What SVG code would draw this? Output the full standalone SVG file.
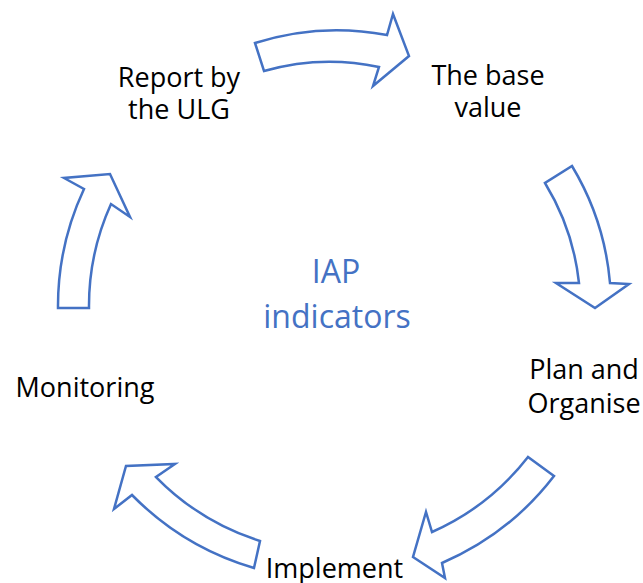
<svg xmlns="http://www.w3.org/2000/svg" width="643" height="583" viewBox="0 0 643 583">
  <style>
    .lbl { font-family: "Open Sans", "Liberation Sans", sans-serif; font-size: 27px; fill: #000000; text-anchor: middle; }
    .ctr { font-family: "Open Sans", "Liberation Sans", sans-serif; font-size: 32px; fill: #4472C4; text-anchor: middle; }
    .arrow { fill: #FFFFFF; stroke: #4472C4; stroke-width: 2.5; stroke-linejoin: miter; }
  </style>
  <rect width="643" height="583" fill="#FFFFFF"/>
  <g id="connectors">
    <path class="arrow" d="M255,43 A270,270 0 0 1 387,35 L393,14 L409,56 L373,86 L379,67 A238,238 0 0 0 264,71 Z"/>
    <path class="arrow" d="M572,166 A272,272 0 0 1 610,283 L629,284 L595,308 L556,283 L579,283 A241,241 0 0 0 545,183 Z"/>
    <path class="arrow" d="M554,476 A281,281 0 0 1 442,563 L445,578 L413,557 L426,512 L432,532 A249,249 0 0 0 528,457 Z"/>
    <path class="arrow" d="M254,568 A282,282 0 0 1 132,495 L114,509 L126,466 L175,464 L156,477 A253,253 0 0 0 260,541 Z"/>
    <path class="arrow" d="M58,308 A277,277 0 0 1 84,189 L64,178 L110,174 L130,217 L111,204 A247,247 0 0 0 89,308 Z"/>
  </g>
  <g id="node-center">
    <text class="ctr" x="336" y="283">IAP</text>
    <text class="ctr" x="337" y="328">indicators</text>
  </g>
  <g id="node-report">
    <text class="lbl" x="179" y="87">Report by</text>
    <text class="lbl" x="179" y="118.5">the ULG</text>
  </g>
  <g id="node-base">
    <text class="lbl" x="488" y="85">The base</text>
    <text class="lbl" x="488" y="117">value</text>
  </g>
  <g id="node-plan">
    <text class="lbl" x="584" y="379">Plan and</text>
    <text class="lbl" x="584" y="412.5">Organise</text>
  </g>
  <g id="node-implement">
    <text class="lbl" x="334.5" y="578">Implement</text>
  </g>
  <g id="node-monitoring">
    <text class="lbl" x="85" y="397">Monitoring</text>
  </g>
</svg>
